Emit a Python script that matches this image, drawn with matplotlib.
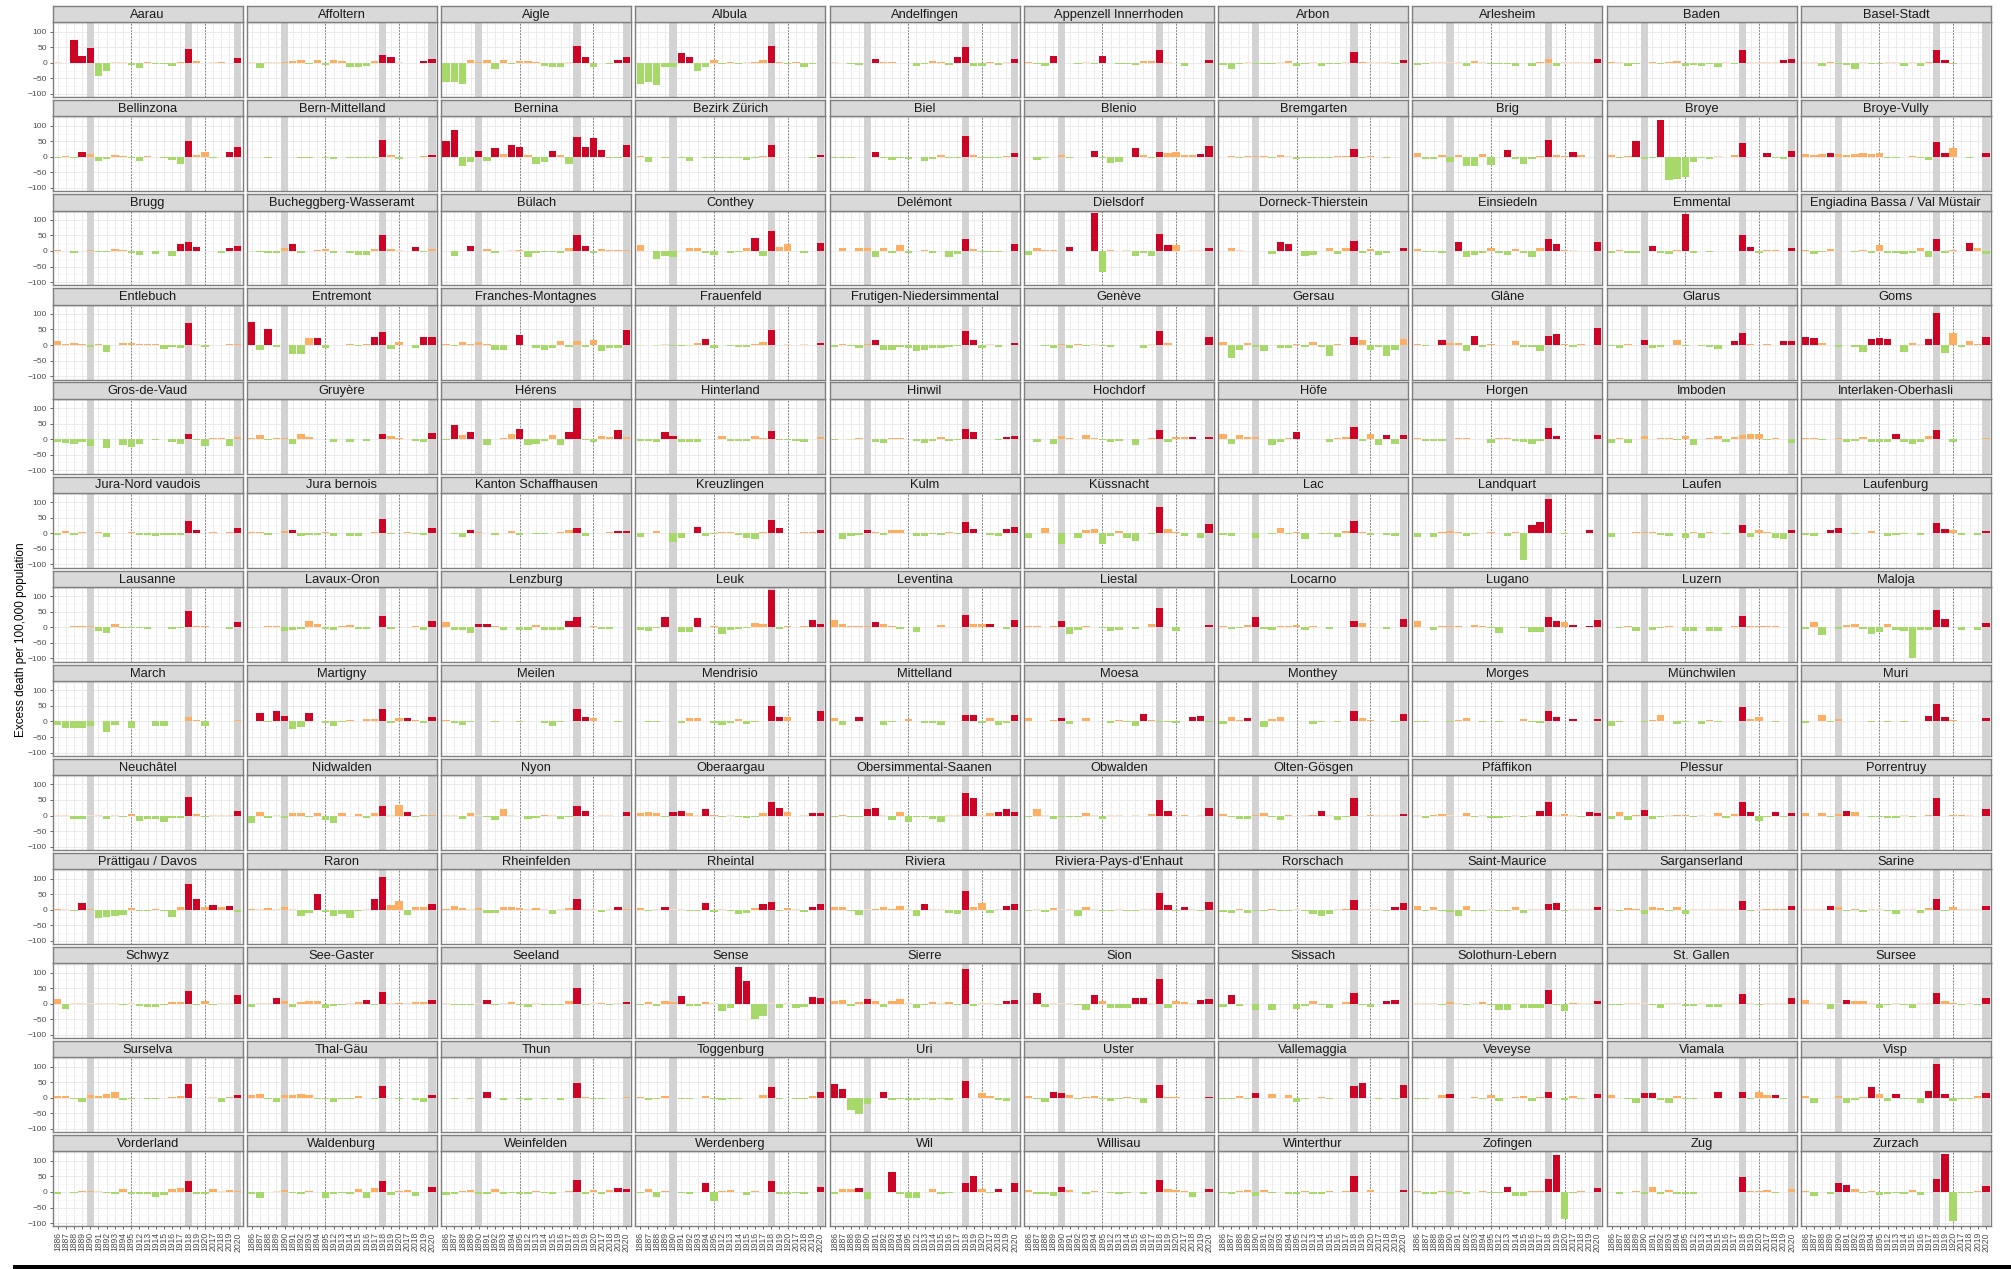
import matplotlib.pyplot as plt
from matplotlib.patches import Rectangle
import numpy as np

plt.rcParams['font.family'] = ['Liberation Sans', 'DejaVu Sans']

years = ['1886', '1887', '1888', '1889', '1890', '1891', '1892', '1893', '1894', '1895',
         '1912', '1913', '1914', '1915', '1916', '1917', '1918', '1919', '1920',
         '2017', '2018', '2019', '2020']
pandemic_years = ['1890', '1918', '2020']
period_breaks = ['1895', '1920']

regions = [
    'Aarau', 'Affoltern', 'Aigle', 'Albula', 'Andelfingen', 'Appenzell Innerrhoden', 'Arbon', 'Arlesheim', 'Baden', 'Basel-Stadt',
    'Bellinzona', 'Bern-Mittelland', 'Bernina', 'Bezirk Zürich', 'Biel', 'Blenio', 'Bremgarten', 'Brig', 'Broye', 'Broye-Vully',
    'Brugg', 'Bucheggberg-Wasseramt', 'Bülach', 'Conthey', 'Delémont', 'Dielsdorf', 'Dorneck-Thierstein', 'Einsiedeln', 'Emmental', 'Engiadina Bassa / Val Müstair',
    'Entlebuch', 'Entremont', 'Franches-Montagnes', 'Frauenfeld', 'Frutigen-Niedersimmental', 'Genève', 'Gersau', 'Glâne', 'Glarus', 'Goms',
    'Gros-de-Vaud', 'Gruyère', 'Hérens', 'Hinterland', 'Hinwil', 'Hochdorf', 'Höfe', 'Horgen', 'Imboden', 'Interlaken-Oberhasli',
    'Jura-Nord vaudois', 'Jura bernois', 'Kanton Schaffhausen', 'Kreuzlingen', 'Kulm', 'Küssnacht', 'Lac', 'Landquart', 'Laufen', 'Laufenburg',
    'Lausanne', 'Lavaux-Oron', 'Lenzburg', 'Leuk', 'Leventina', 'Liestal', 'Locarno', 'Lugano', 'Luzern', 'Maloja',
    'March', 'Martigny', 'Meilen', 'Mendrisio', 'Mittelland', 'Moesa', 'Monthey', 'Morges', 'Münchwilen', 'Muri',
    'Neuchâtel', 'Nidwalden', 'Nyon', 'Oberaargau', 'Obersimmental-Saanen', 'Obwalden', 'Olten-Gösgen', 'Pfäffikon', 'Plessur', 'Porrentruy',
    'Prättigau / Davos', 'Raron', 'Rheinfelden', 'Rheintal', 'Riviera', "Riviera-Pays-d'Enhaut", 'Rorschach', 'Saint-Maurice', 'Sarganserland', 'Sarine',
    'Schwyz', 'See-Gaster', 'Seeland', 'Sense', 'Sierre', 'Sion', 'Sissach', 'Solothurn-Lebern', 'St. Gallen', 'Sursee',
    'Surselva', 'Thal-Gäu', 'Thun', 'Toggenburg', 'Uri', 'Uster', 'Vallemaggia', 'Veveyse', 'Viamala', 'Visp',
    'Vorderland', 'Waldenburg', 'Weinfelden', 'Werdenberg', 'Wil', 'Willisau', 'Winterthur', 'Zofingen', 'Zug', 'Zurzach',
]

# excess deaths per 100,000, one row per region, one value per year
excess = [
    [1, -2, 72, 21, 47, -41, -28, 1, 2, -7, -18, 3, -5, -3, -10, 3, 44, 6, -2, 1, 3, -2, 16],
    [1, -18, 2, 2, 3, 6, 10, -5, 10, -8, 8, 6, -15, -15, -10, 5, 25, 18, 1, -2, -2, 7, 12],
    [-62, -62, -68, 8, 3, 8, -20, 8, -3, 7, 5, 4, -10, -13, -15, 1, 53, 18, -15, 0, -3, 10, 20],
    [-68, -62, -70, -15, -15, 32, 20, -28, -15, 8, -5, 3, -5, 2, 3, 8, 55, 3, -5, 3, -15, -5, 0],
    [1, 0, -5, -8, 0, 13, 3, 3, 0, 0, -10, -5, 5, 3, -7, 17, 50, -12, -10, 4, -7, 2, 12],
    [3, -5, -10, 22, 0, 0, -3, 2, -5, 22, -2, -5, -3, -8, 7, 7, 42, 2, 0, -12, 0, -2, 10],
    [-8, -20, -3, 1, -5, -5, -3, 1, 7, -12, -5, 1, -10, -5, -3, 1, 33, 3, 1, 1, 1, -3, 8],
    [-7, -5, 1, 2, 1, 1, -10, 7, 1, -5, -5, -3, -10, 0, -10, 3, 12, -10, 2, 1, 1, 1, 12],
    [3, 1, -10, -5, 0, 3, -3, 3, 5, -10, -7, -10, -5, -15, 1, -5, 42, 2, 2, 1, 1, 8, 12],
    [1, 1, -10, 3, -5, -8, -20, 1, -3, -3, 1, 1, -10, 1, -10, 3, 40, 10, -5, -1, -1, -1, -1],

    [-5, 3, -3, 15, 8, -12, -8, 7, 3, -3, -12, 3, 1, -3, -10, -22, 52, 7, 15, -3, 1, 15, 32],
    [1, 1, -3, 1, 1, 1, -5, -5, 1, -3, -8, 1, -3, -3, -5, -5, 53, 7, -7, 1, 1, 3, 5],
    [52, 85, -30, -18, 18, -12, 30, 8, 38, 33, 7, -22, -18, 18, 5, -22, 63, 33, 60, 23, -5, -5, 38],
    [3, -18, 1, -3, 1, -5, -12, 1, -3, -3, -3, -5, -5, -10, -5, 3, 38, 1, 1, 1, 1, -3, 5],
    [-3, -3, -5, 1, 1, 15, -5, -10, -3, -8, 1, -12, -8, 5, -5, -5, 68, 7, -5, -3, -3, 3, 12],
    [1, -10, -3, 1, 7, -3, 1, 1, 18, -5, -20, -15, 1, 30, 7, -5, 17, 13, 17, 7, 7, 10, 35],
    [1, 3, -5, 3, 3, 3, -5, 5, 2, -7, -5, -5, -3, -5, 3, 3, 25, -5, 3, 1, -5, 1, 1],
    [12, -7, -8, 5, -18, 5, -28, -28, 8, -25, 1, 22, -8, -22, -8, 3, 55, 5, 3, 15, 5, 1, 1],
    [7, -3, 3, 52, -8, -5, 120, -75, -72, -65, -18, -5, -8, 2, 1, 7, 45, 1, 1, 12, -3, -8, 20],
    [10, 5, 10, 12, 8, 7, 8, 12, 8, 12, -5, -3, 1, 3, -5, -10, 48, 12, 28, 1, -3, 1, 12],

    [3, 1, -5, 1, 3, -3, -3, 5, 3, -8, -12, 1, -10, 1, -15, 22, 30, 12, 1, 1, -8, 10, 17],
    [-2, -3, -5, -8, 8, 22, -7, 1, 3, 5, -5, 1, -5, -12, -12, 7, 50, 5, 2, 1, 12, -3, 5],
    [1, -15, 1, 15, 1, 5, -5, 1, 2, 3, -20, -5, -3, -3, -8, 8, 52, 15, -8, 5, 3, 3, 3],
    [18, 1, -25, -15, -20, 1, 10, 10, -5, -12, 1, -5, -3, 10, 43, -15, 63, 13, 22, 1, -7, 1, 25],
    [1, 10, 1, 8, 8, -18, 8, -8, 18, -5, 1, 3, -5, 1, -18, -10, 40, 5, -3, -3, -3, 1, 22],
    [-12, 8, 3, 3, 1, 12, 1, 1, 121, -67, 3, 1, 2, -15, -8, -15, 55, 20, 18, 1, 2, 2, 8],
    [1, 8, 2, 1, 1, 1, -10, 28, 22, 1, -15, -12, 1, 8, -10, 8, 32, -8, 5, -12, -5, 1, 8],
    [5, -3, -3, -5, 1, 30, -20, -12, -5, 8, -5, -12, 7, -5, -20, 8, 40, 22, 3, 2, 1, 1, 30],
    [-5, 3, -5, -8, 1, 15, -5, -10, 3, 120, -5, 1, -3, 1, 1, 1, 52, 12, -5, 3, 3, 1, 8],
    [3, -10, -3, 5, 1, 1, -3, 3, -5, 18, -5, -8, -10, -5, 8, -18, 40, -5, 3, 1, 25, 8, -10],

    [12, 3, 7, 5, -5, 5, -22, 1, 7, 7, 5, 5, 5, -12, -5, -10, 72, 2, -5, 1, 1, 5, 5],
    [75, -15, 50, -5, 1, -30, -28, 22, 22, -10, 1, 1, 5, -3, 5, 25, 43, -12, 10, 1, -8, 27, 27],
    [3, -3, 10, 5, 10, 5, -15, -15, 1, 32, 1, -10, -15, -8, 12, -5, 13, -5, 15, -18, -10, -8, 48],
    [-2, 0, -2, 2, -3, -3, -2, 7, 20, -10, 0, -3, -5, -5, 5, 10, 47, 1, 2, 1, 2, 1, 7],
    [-5, 3, -3, -8, 5, 15, -15, -15, -5, -8, -18, -15, -10, -8, -5, -3, 45, 15, -10, 2, -5, 1, 7],
    [1, 1, -3, -8, 5, -8, 5, -3, 2, -3, -5, 1, 1, 1, -8, 2, 45, 7, 1, 1, 1, 1, 25],
    [10, -40, -15, 8, -5, -18, 1, -10, -10, 5, -5, 10, -5, -35, 3, 1, 25, 15, -15, -5, -35, -15, 20],
    [5, -3, 1, 15, 8, 8, -18, 28, -5, 5, 1, 1, 12, -5, -5, -20, 30, 35, 5, -5, 5, 1, 55],
    [-3, -8, 5, 1, 15, -8, -5, 1, 15, -3, 1, -3, -5, -12, 1, 12, 38, 5, 1, 3, 1, 12, 12],
    [25, 22, 7, 1, -5, 1, -5, -22, 20, 22, 18, 1, -22, 7, 2, 20, 103, -25, 40, -5, 12, 5, 25],

    [-10, -12, -15, -8, -22, 0, -30, 1, -20, -25, -15, 1, -3, 2, -10, -15, 18, -3, -22, 3, 3, -22, 7],
    [3, 12, -3, 5, 5, -15, 15, 7, 1, 1, -10, 1, -8, 1, -5, 1, 17, 10, 3, 1, -5, -8, 20],
    [-3, 45, 12, 23, 1, -20, 1, 5, 17, 32, -20, -15, -5, 12, -18, 23, 100, -3, -8, 10, 8, 28, 8],
    [-5, -5, -8, 22, 10, -10, -10, -10, 1, 1, 10, -5, -5, -5, 10, 3, 25, -3, -3, -5, -8, 1, 7],
    [-3, 1, -2, 3, 1, -8, -12, 3, 3, 1, -5, -12, -5, 7, -5, -3, 32, 22, 1, 1, -3, 7, 10],
    [1, -8, 1, -15, 10, 3, 1, 12, 3, -3, -10, -5, 1, -18, 1, 3, 30, -8, 7, 7, 7, 1, 8],
    [15, -15, 12, 7, 7, 1, -18, -8, 5, 22, 1, 1, 1, -8, 3, 7, 38, -5, 15, -18, 12, -15, 12],
    [3, -7, -7, -7, 1, 3, 5, 1, 1, -12, 3, 3, -5, -8, -15, -5, 35, 10, 1, 2, 1, 2, 12],
    [-12, 5, -12, 1, 10, 1, 3, 3, -3, 10, -20, 2, 3, 10, -8, 8, 13, 15, 18, -3, 3, 1, -12],
    [3, 3, -3, 1, 3, -8, -5, 8, -8, -8, -8, 15, -10, -15, -8, 10, 28, 1, -8, 1, 2, 1, 3],

    [-5, 8, -5, 3, 1, 5, -12, 1, 1, 5, -5, -5, -8, -5, -5, -5, 40, 10, 1, 3, 1, 3, 17],
    [3, 3, -5, 1, 8, 12, -10, -5, -5, 3, -8, 1, -10, -8, 1, 5, 47, -3, 1, 5, -3, -5, 18],
    [1, -3, -12, 12, 3, 1, -5, 1, 8, -5, 2, -3, -3, 1, 5, 10, 18, -8, 1, 1, 5, 7, 8],
    [-12, 1, 7, 1, -27, -15, 1, 20, -8, -3, 5, 3, -5, -15, -20, 5, 42, 18, 1, 1, 5, 3, 12],
    [1, -18, -10, -5, 12, 5, -5, 10, 10, 1, -10, -10, -3, -5, 5, -3, 37, 15, 1, -5, -8, 15, 20],
    [-15, 1, 18, 1, -35, 1, -15, 12, 15, -35, -10, 8, -15, -25, 1, -3, 85, 15, 5, -10, 1, -15, 30],
    [-5, -8, 1, 2, -15, 1, -3, 18, -3, 3, -20, 1, -3, -3, -12, 8, 38, 5, -5, 1, -5, -8, 1],
    [-12, 1, -12, 3, 7, 5, -10, -3, 1, 3, 1, -8, 3, -86, 25, 35, 110, 1, -3, 2, 1, 12, 1],
    [-12, 1, 1, 3, 5, 5, -5, -8, 1, -15, 5, -15, 5, 1, -3, 1, 25, -12, 12, 5, -15, -18, 10],
    [-5, -8, 1, 12, 18, 1, -3, 1, 8, 1, -8, -5, -3, 1, -5, 1, 32, 15, 10, -5, 1, -5, 8],

    [2, 2, 3, 3, 3, -12, -18, 12, -3, -3, -3, -5, 1, 1, -5, -3, 52, 5, 3, 2, 1, -5, 18],
    [-2, 1, 5, 3, -12, -10, -5, 22, 10, -5, -8, 3, 8, -5, -5, 1, 35, -5, 2, 1, 3, -8, 22],
    [18, -10, -10, -18, 12, 12, 3, -7, 1, -7, -7, 7, -10, -10, -10, 20, 33, 1, 5, -5, -5, 1, 2],
    [-10, -12, -3, 32, 1, -15, -15, 30, 1, 3, -22, -10, -5, -3, 15, 12, 120, -5, 5, 1, 5, 25, 10],
    [25, 12, 5, 5, 5, 18, 12, 3, -5, 1, -15, 1, 1, 8, 1, 1, 40, 10, 10, 12, 1, -5, 25],
    [3, 5, 1, 5, 20, -20, -10, 3, 1, -3, -12, -10, 1, -5, 1, 12, 62, 1, -12, 1, 1, 1, 8],
    [3, -5, -3, 7, 32, -5, -7, 5, 5, 7, -10, 3, 1, -5, 1, 1, 22, 15, 1, 1, -5, 1, 28],
    [20, 1, -10, 3, 5, 3, 1, 8, 3, -3, -18, 1, 1, -3, -15, -15, 32, 22, 18, 8, 1, 5, 25],
    [1, -3, 3, -12, 1, -10, -3, 5, 1, -12, -12, 1, -12, -12, 1, 3, 38, 3, 3, 3, 3, 1, 1],
    [-5, 18, -25, 1, -5, 8, 10, -5, -22, -15, 10, -10, -12, -99, -10, -10, 55, 27, 1, -10, 1, -10, 13],

    [-10, -22, -20, -20, -15, 1, -35, -12, 1, -22, 1, 1, -15, -15, 1, 1, 15, 5, -15, 1, 1, 1, 5],
    [3, 28, -3, 35, 17, -25, -18, 27, 3, -5, -15, -3, 5, 1, 8, 8, 40, -5, 12, 12, 5, -5, 15],
    [5, -5, -10, -3, 1, 1, -3, 3, 1, -3, 1, 3, -5, -15, -3, 1, 40, 15, 10, 1, 1, -3, 1],
    [3, -3, -3, 1, 1, -5, 12, 10, 1, -5, -10, -5, 7, -7, -3, 1, 50, 15, 15, 1, 3, 3, 35],
    [10, -12, 1, 13, 3, 1, -10, -3, 1, 8, 1, -5, -5, -12, 3, 1, 22, 22, -5, 10, -12, -5, 22],
    [10, 1, 1, 5, 12, -8, 3, 12, 3, 2, -5, 5, -3, -15, 25, 5, -3, -3, -5, 1, 15, 17, -3],
    [-8, 15, 5, 12, 1, -18, 7, 15, 1, 1, 1, -8, -3, 1, -3, 1, 35, 12, 5, 1, 1, -3, 23],
    [-3, -3, 1, 1, -3, 5, 10, 3, -3, 1, -3, 1, 1, 7, -3, -5, 35, 15, 3, 8, 3, 1, 7],
    [-15, -3, 1, 1, -3, 5, 20, 1, -8, -3, 3, -7, 5, -3, 1, 3, 45, 8, 15, 1, -3, 1, 2],
    [-5, 1, 20, -3, 7, 3, 3, 1, -3, 1, -3, 1, -3, 1, 1, 17, 57, 15, 5, 2, 1, 1, 12],

    [1, 1, -10, -10, 1, 1, -10, 1, -5, 5, -18, -12, -12, -20, -8, -8, 60, 5, -5, 1, 1, 1, 15],
    [-25, 12, -8, 1, -8, 7, 8, -5, 8, -15, -25, 8, -3, 5, -8, 8, 30, 1, 35, 10, -5, 3, 3],
    [2, 2, -12, 7, 1, -5, -15, 20, 1, -3, -12, -8, 3, 1, -12, -5, 32, 15, -3, 1, 1, -3, 12],
    [8, 10, 7, -5, 12, 15, 8, 1, 20, 3, -5, 1, -5, -8, -5, 8, 45, 25, 12, -3, 1, 7, 8],
    [-5, 3, -5, -5, 20, 23, 1, -15, 10, -20, -5, -5, -12, -22, 1, 1, 72, 55, 1, 7, 12, 20, 12],
    [-5, 22, 1, -12, -5, -5, -5, 7, 1, -10, 1, 1, -3, 1, -3, 5, 50, 15, 1, 3, -3, 1, 25],
    [5, -5, -10, -10, 3, 8, -5, -15, 3, -3, 1, 3, 15, 1, -15, -5, 55, -3, 3, 2, 2, 1, 5],
    [1, -8, 3, 5, 1, -3, 8, -5, 1, -8, -8, -5, 1, -5, 1, 15, 45, 1, 5, 1, -5, 12, 8],
    [-10, 12, -15, 3, 18, -10, -5, 1, 3, 3, -5, 1, -3, 8, -8, 5, 45, 12, -18, -5, 10, -5, 8],
    [8, -3, 7, -5, 5, 15, 10, -3, -5, -5, -8, -8, 1, -5, -3, 3, 55, -3, 3, 3, 1, -3, 20],

    [3, 1, -5, 20, 3, -28, -25, -20, -18, 5, -5, -5, 3, -3, -22, 10, 82, 35, 8, 15, 8, 13, -8],
    [3, 1, 5, 1, 7, 1, -20, -10, 50, -8, -20, -15, -28, -5, 1, 35, 105, 15, 27, -18, 8, 8, 17],
    [3, 12, 5, 1, 5, -12, -12, 7, 7, 5, 1, 5, 1, -15, 1, 5, 33, 1, 1, -8, 1, 10, 3],
    [5, -3, 1, 10, 1, 1, -5, -3, 20, -8, 1, -5, -15, -10, 5, 17, 25, -5, 5, 1, -8, 10, 17],
    [10, 7, -5, -18, 1, 3, 10, 3, 12, 1, -20, 18, 1, 2, -10, -15, 60, 10, 20, -10, 1, 13, 17],
    [-5, 1, -8, 5, 1, 1, -20, 10, 1, -3, -3, 1, -5, -5, 1, 1, 55, 15, -3, 10, 1, -5, 25],
    [-7, -10, 3, -10, -5, -5, 3, -3, -5, 1, -5, -15, -20, -15, 1, 3, 32, 1, 1, 1, -3, 8, 22],
    [12, -3, 10, -3, -8, -20, 12, -5, -5, 1, -5, -3, 8, -10, 1, 1, 18, 20, -3, 2, 1, 1, 10],
    [1, -5, 5, 3, -15, 8, 5, -5, 8, -15, 1, 1, 1, 1, 1, 1, 28, -5, 1, 3, 3, 3, 12],
    [2, 1, 1, 12, 8, -5, 3, -8, 1, 1, -3, -15, 1, 1, -12, 5, 35, -5, 7, 1, 1, 1, 13],

    [15, -18, 1, 1, 1, 1, 1, 1, -3, 2, -7, -10, -10, -5, 7, 5, 40, -3, 10, -5, 1, 1, 27],
    [-12, 1, 1, 17, 10, -12, 5, 8, 10, -15, -8, -5, 1, 7, 13, -3, 38, 1, 3, 1, 5, 5, 13],
    [1, -3, -5, -5, 1, 12, -5, 1, 5, -3, -12, 1, -5, -3, -3, 8, 52, -5, 1, 3, -5, 1, 5],
    [-5, 7, -8, 8, 5, 25, -8, -8, 5, 1, -22, -15, 118, 72, -48, -40, 1, -15, 1, -15, -10, 22, 18],
    [8, 12, -8, 5, 15, 8, -12, 8, 15, 1, -15, -3, 5, 1, 5, -3, 112, -8, 1, 1, -5, 8, 12],
    [1, 33, -12, 1, 1, 1, -5, -20, 28, 8, -15, -15, -15, 18, 17, 1, 80, -15, 8, 5, 1, 12, 15],
    [-10, 28, -7, 0, -20, 0, -20, 0, 0, -18, -8, 8, -3, -15, 0, 7, 35, -3, -10, 0, 10, 12, 0],
    [1, 1, 1, -5, 7, 1, -5, 1, 5, -3, -20, -20, 1, -15, -15, -15, 45, -3, -22, 3, 1, 1, 10],
    [-5, -5, 1, 2, 1, -3, -15, 1, 1, -8, -8, 1, -10, -12, 1, 1, 32, 1, -3, 2, 1, 1, 20],
    [12, 1, 2, -18, 1, 12, 10, 10, 1, -15, -5, 1, -5, -15, 1, 1, 33, 8, 3, -3, 1, -3, 18],

    [5, 7, -5, -12, 10, 5, 12, 20, -8, -3, 1, -5, -5, 1, 3, 7, 43, 1, 1, 2, -12, 3, 10],
    [10, 12, -5, -12, 8, 10, 12, 10, -3, -5, -12, -5, -5, 5, 1, -3, 38, 1, -3, 1, -8, -12, 10],
    [1, -5, 1, -3, 1, 18, 1, -8, 1, -3, -8, 1, -3, 1, -8, 1, 48, 3, -5, -3, 1, 1, 3],
    [3, -8, -5, 7, 1, -3, -5, 1, 7, -5, -8, -5, -5, 1, 1, 10, 35, -5, 1, -5, -3, 5, 18],
    [45, 28, -40, -52, -20, 1, 20, -8, -3, -8, -8, -5, -8, -5, -8, 1, 55, 1, 15, 5, -8, -10, 1],
    [5, -5, -12, 20, 15, 10, -5, 3, 5, -5, -10, -5, 3, -5, -18, 1, 40, 3, 3, 1, 1, 1, 3],
    [-3, -5, 5, -5, 17, 1, 12, 1, 8, -12, -5, 1, 3, -5, 1, 1, 38, 48, 1, -5, 1, -5, 40],
    [-5, -5, 0, 8, 13, 0, 0, 3, -5, 10, -10, 0, 3, 5, -10, 3, 20, 0, -8, 5, -3, 0, 12],
    [8, 1, -5, -15, 15, 15, -8, -15, 5, -5, -5, 1, 1, 20, 1, 1, 18, -5, 18, 10, 10, -3, 1],
    [5, -18, 1, 1, 5, -15, -8, 3, 35, 12, -10, 12, -5, -5, -18, 22, 108, 12, -10, -5, -3, 5, 15],

    [-5, 1, -3, 3, 3, 2, -3, -7, 10, -5, -8, -8, -15, -10, 10, 12, 36, -5, -8, 10, 2, 5, 3],
    [-5, -18, 1, 2, 5, -3, -5, 3, 1, -18, -8, -3, -5, 10, -18, 12, 35, -10, 3, 5, -12, 1, 15],
    [-10, -5, 3, 5, -5, -8, 8, -5, -3, -5, -8, 3, -3, -5, 1, 3, 38, -5, 5, -5, 5, 12, 10],
    [-3, 8, -15, 3, 1, -3, -8, 1, 30, -28, 3, 5, 1, -10, 3, 1, 35, -5, -5, -3, -8, 1, 15],
    [-5, 10, 10, 12, -22, 1, 1, 65, -5, -20, -20, 1, 10, -5, -3, 1, 30, 50, 10, -3, 8, 1, 30],
    [5, -5, -8, -12, 15, 5, 1, -5, 3, 1, -3, -5, -3, 1, -8, 1, 40, 8, 5, 3, -15, 1, 8],
    [-3, -5, 3, 5, -12, 7, -3, 1, -5, -5, 3, -5, -5, 3, 1, 3, 52, 1, 5, 1, 1, 1, 5],
    [3, -5, -8, 3, -5, 3, -5, 1, 3, -3, -3, 15, -12, -12, 3, 3, 42, 120, -88, -3, 3, 1, 12],
    [1, -5, 1, 3, -5, 15, -5, 5, -8, -5, -5, 1, 1, 1, 1, 1, 48, 3, 3, 5, -3, 1, 8],
    [3, -12, 1, -8, 30, 22, 10, -3, 3, -10, -8, -3, -8, 5, -10, 1, 42, 122, -92, -3, -3, 3, 20],
]

# positions (0 = 1886 ... 22 = 2020) of the years flagged as significant excess
red_idx = [
    [2, 3, 4, 16, 22], [16, 17, 21, 22], [16, 17, 21, 22], [5, 6, 16], [5, 15, 16, 22],
    [3, 9, 16, 22], [16, 22], [22], [16, 21, 22], [16, 17],
    [3, 16, 21, 22], [16, 22], [0, 1, 4, 6, 8, 9, 13, 16, 17, 18, 19, 22], [16, 22], [5, 16, 22],
    [8, 13, 16, 21, 22], [16], [11, 16, 19], [3, 6, 16, 19, 22], [3, 16, 17, 22],
    [15, 16, 17, 21, 22], [5, 16, 20], [3, 16, 17], [14, 16, 22], [16, 22],
    [5, 8, 16, 17, 22], [7, 8, 16, 22], [5, 16, 17, 22], [5, 9, 16, 17, 22], [16, 20],
    [16], [0, 2, 8, 15, 16, 21, 22], [9, 22], [8, 16, 22], [5, 16, 17, 22],
    [16, 22], [16], [3, 7, 16, 17, 22], [4, 15, 16, 21, 22], [0, 1, 8, 9, 10, 15, 16, 22],
    [16], [16, 22], [1, 3, 9, 15, 16, 21], [3, 4, 16], [16, 17, 21, 22],
    [16, 20, 22], [9, 16, 20, 22], [16, 17, 22], [], [11, 16],
    [16, 17, 22], [5, 16, 22], [3, 16, 21, 22], [7, 16, 17, 22], [4, 16, 17, 21, 22],
    [16, 22], [16], [14, 15, 16, 21], [16, 22], [3, 4, 16, 17, 22],
    [16, 22], [16, 22], [4, 5, 15, 16], [3, 7, 16, 21, 22], [5, 16, 19, 22],
    [4, 16, 22], [4, 16, 22], [16, 17, 19, 21, 22], [16], [16, 17, 22],
    [], [1, 3, 4, 7, 16, 19, 22], [16, 17], [16, 17, 22], [3, 16, 17, 22],
    [4, 14, 20, 21], [3, 16, 22], [16, 17, 19, 22], [16], [15, 16, 17, 22],
    [16, 22], [16, 19], [16, 17, 22], [4, 5, 8, 16, 17, 21, 22], [4, 5, 16, 17, 20, 21, 22],
    [16, 17, 22], [12, 16, 22], [15, 16, 21, 22], [4, 16, 17, 20, 22], [5, 16, 22],
    [3, 16, 17, 19, 21], [8, 15, 16, 22], [16, 21], [3, 8, 15, 16, 21, 22], [11, 16, 21, 22],
    [16, 17, 19, 22], [16, 21, 22], [16, 17, 22], [16, 22], [3, 16, 22],
    [16, 22], [3, 14, 16, 22], [5, 16, 22], [5, 12, 13, 21, 22], [4, 16, 21, 22],
    [1, 8, 13, 14, 16, 21, 22], [1, 16, 20, 21], [16, 22], [16, 22], [5, 16, 22],
    [16, 22], [16, 22], [5, 16], [16, 22], [0, 1, 6, 16],
    [3, 4, 16, 22], [4, 16, 17, 22], [4, 16, 22], [4, 5, 13, 16, 20], [8, 11, 15, 16, 17, 22],
    [16], [16, 22], [16, 21, 22], [8, 16, 22], [3, 7, 16, 17, 20, 22],
    [4, 16, 22], [16, 22], [11, 16, 17, 22], [16], [4, 5, 16, 17, 22],
]

RED, ORANGE, PEACH = '#CC0527', '#FDAE61', '#FDDCBF'
GREEN, PALEGREEN = '#A6D96A', '#D5EDB5'


def bar_colour(v, flagged):
    if flagged:
        return RED
    if v >= 0:
        return ORANGE if v > 2 else PEACH
    return GREEN if v < -2 else PALEGREEN


W, H = 2011, 1269
fig = plt.figure(figsize=(W / 100, H / 100), dpi=100)

x = np.arange(1, len(years) + 1)
band_x = [years.index(y) + 1 for y in pandemic_years]
break_x = [years.index(y) + 1 for y in period_breaks]

col_left0, col_step, panel_w = 52.6, 194.25, 190
row_top0, row_step, panel_h, strip_h = 22.3, 94.1, 75, 16.3

for k, name in enumerate(regions):
    r, c = divmod(k, 10)
    left = col_left0 + col_step * c
    top = row_top0 + row_step * r
    ax = fig.add_axes([left / W, 1 - (top + panel_h) / H, panel_w / W, panel_h / H])
    ax.set_facecolor('white')
    ax.set_xlim(0.4, 23.6)
    ax.set_ylim(-111, 130)

    ax.set_yticks([-100, -50, 0, 50, 100])
    ax.set_yticks([-75, -25, 25, 75, 125], minor=True)
    ax.set_xticks(x)
    ax.grid(which='major', color='#EBEBEB', lw=0.7, zorder=0)
    ax.grid(which='minor', axis='y', color='#F4F4F4', lw=0.4, zorder=0)
    ax.set_axisbelow(True)

    for b in band_x:
        ax.axvspan(b - 0.45, b + 0.45, color='#D3D3D3', lw=0, zorder=1)
    for b in break_x:
        ax.axvline(b, color='#5A5A5A', lw=0.5, ls=(0, (2.5, 2)), zorder=1.5)

    vals = excess[k]
    cols = [bar_colour(v, i in red_idx[k]) for i, v in enumerate(vals)]
    ax.bar(x, vals, width=0.9, color=cols, lw=0, zorder=3)

    for s in ax.spines.values():
        s.set_color('#7F7F7F')
        s.set_linewidth(1.0)

    ax.tick_params(which='minor', length=0)
    if c == 0:
        ax.set_yticklabels(['\u2212100', '\u221250', '0', '50', '100'])
        ax.tick_params(axis='y', labelsize=6, labelcolor='#4D4D4D', color='#4D4D4D',
                       length=2.5, width=0.6, pad=1.5)
    else:
        ax.tick_params(axis='y', left=False, labelleft=False)
    if r == 12:
        ax.set_xticklabels(years, rotation=90)
        ax.tick_params(axis='x', labelsize=6.2, labelcolor='#4D4D4D', color='#4D4D4D',
                       length=2.5, width=0.6, pad=1.5)
    else:
        ax.tick_params(axis='x', bottom=False, labelbottom=False)

    sx = fig.add_axes([left / W, 1 - top / H, panel_w / W, strip_h / H])
    sx.set_facecolor('#D9D9D9')
    sx.set_xticks([])
    sx.set_yticks([])
    for s in sx.spines.values():
        s.set_color('#7F7F7F')
        s.set_linewidth(1.0)
    sx.text(0.5, 0.45, name, ha='center', va='center', fontsize=9.3,
            color='#1A1A1A', transform=sx.transAxes)

fig.text(21 / W, 1 - 640 / H, 'Excess death per 100,000 population', rotation=90,
         ha='center', va='center', fontsize=8.5, color='black')

fig.add_artist(Rectangle((13 / W, 0), 1, 4 / H, transform=fig.transFigure,
                         color='black', lw=0))

fig.savefig('out.png', dpi=100)
